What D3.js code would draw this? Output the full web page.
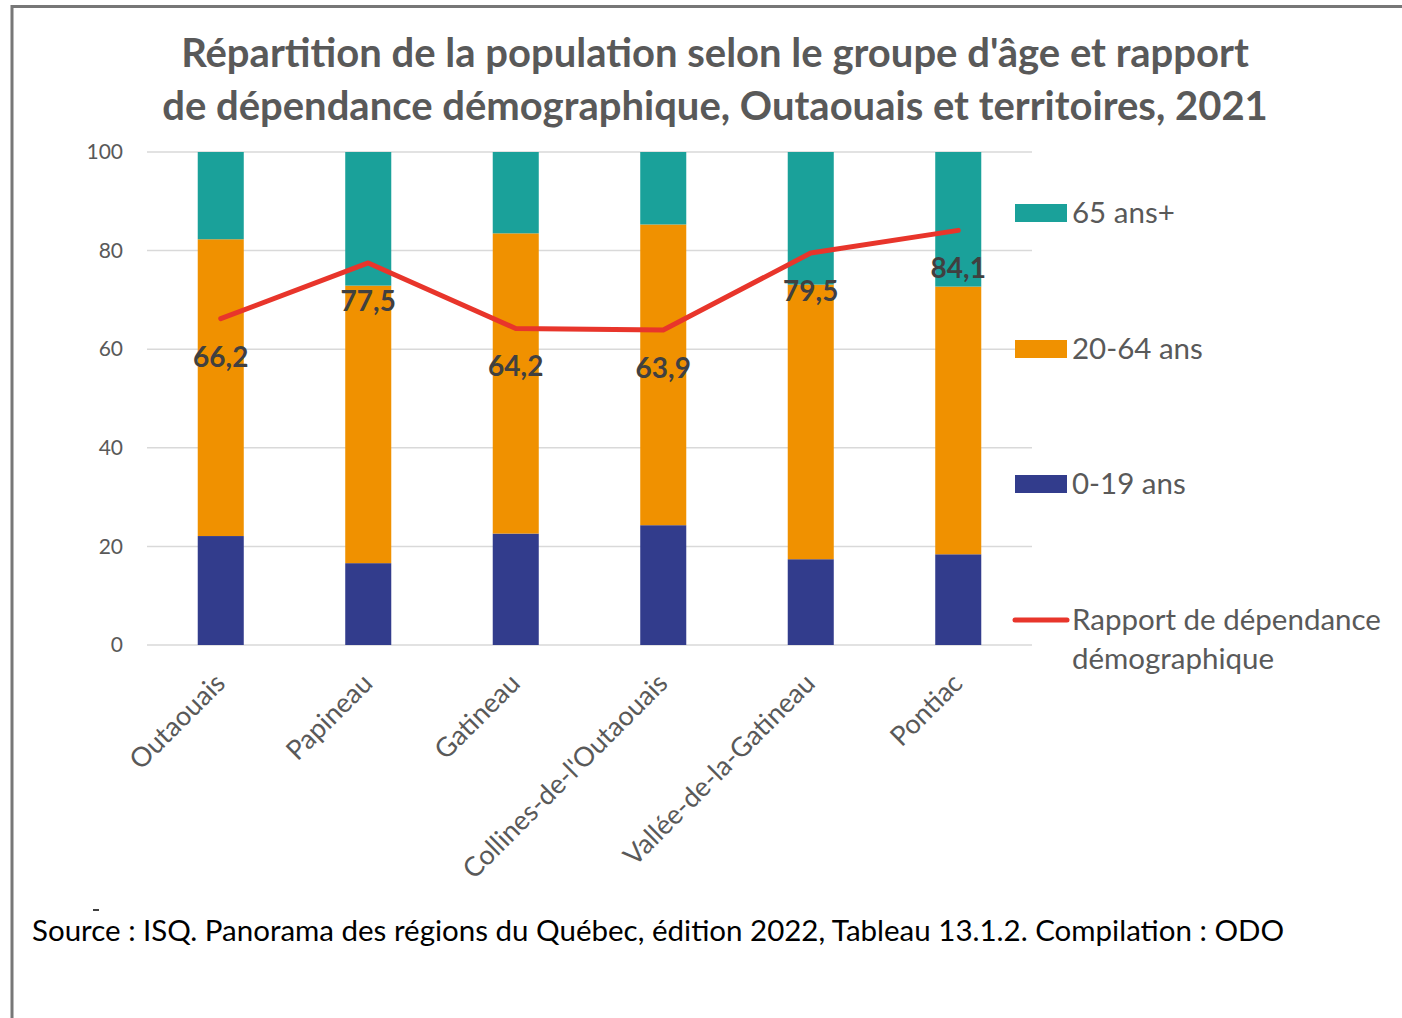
<!DOCTYPE html>
<html>
<head>
<meta charset="utf-8">
<script src="https://cdn.jsdelivr.net/npm/d3@7"></script>
<style>
  body { margin: 0; background: #fff; }
  svg { display: block; font-family: Lato, "Open Sans", sans-serif; }
</style>
</head>
<body>
<div id="chart"></div>
<script>
var regions = ['Outaouais', 'Papineau', 'Gatineau', "Collines-de-l'Outaouais", 'Vallée-de-la-Gatineau', 'Pontiac']
var young = [22.1, 16.6, 22.6, 24.3, 17.4, 18.4]
var adults = [60.2, 56.3, 60.9, 61.0, 55.7, 54.3]
var seniors = [17.7, 27.1, 16.5, 14.7, 26.9, 27.3]
var ratio = [66.2, 77.5, 64.2, 63.9, 79.5, 84.1]
var yTicks = [0, 20, 40, 60, 80, 100]

var seriesNames = ['0-19 ans', '20-64 ans', '65 ans+']
var colors = ['#323C8C', '#F09100', '#1AA19A']
var lineName = ['Rapport de dépendance', 'démographique']

var W = 1402, H = 1018
var plotLeft = 147, plotRight = 1032, plotTop = 152, plotBottom = 645

var svg = d3.select('#chart').append('svg')
  .attr('width', W)
  .attr('height', H)

// frame
svg.append('rect')
  .attr('x', 12).attr('y', 6.5)
  .attr('width', W + 20).attr('height', H + 20)
  .attr('fill', 'none')
  .attr('stroke', '#777')
  .attr('stroke-width', 3)

svg.append('text')
  .attr('x', 715).attr('y', 67)
  .attr('text-anchor', 'middle')
  .attr('font-size', 40).attr('font-weight', 'bold')
  .attr('fill', '#595959')
  .text("Répartition de la population selon le groupe d'âge et rapport")
svg.append('text')
  .attr('x', 715).attr('y', 120)
  .attr('text-anchor', 'middle')
  .attr('font-size', 40).attr('font-weight', 'bold')
  .attr('fill', '#595959')
  .text('de dépendance démographique, Outaouais et territoires, 2021')

var x = d3.scaleBand().domain(regions).range([plotLeft, plotRight])
  .paddingInner(0.688).paddingOuter(0.344)
var y = d3.scaleLinear().domain([0, 100]).range([plotBottom, plotTop])

// gridlines
svg.append('g').selectAll('line').data(yTicks).enter().append('line')
  .attr('x1', plotLeft).attr('x2', plotRight)
  .attr('y1', d => y(d)).attr('y2', d => y(d))
  .attr('stroke', '#d9d9d9').attr('stroke-width', 1.5)

var yAxis = svg.append('g')
  .attr('transform', `translate(${plotLeft},0)`)
  .call(d3.axisLeft(y).tickValues(yTicks).tickSize(0).tickPadding(24))
yAxis.select('.domain').remove()
yAxis.selectAll('text').attr('font-size', 21).attr('fill', '#595959')
  .attr('font-family', 'Lato, sans-serif')

// stacked bars
var rows = regions.map((r, i) => ({ region: r, a: young[i], b: adults[i], c: seniors[i] }))
var stack = d3.stack().keys(['a', 'b', 'c'])(rows)

svg.append('g').selectAll('g').data(stack).enter().append('g')
  .attr('fill', (d, i) => colors[i])
  .selectAll('rect').data(d => d).enter().append('rect')
  .attr('x', d => x(d.data.region))
  .attr('width', x.bandwidth())
  .attr('y', d => y(Math.min(d[1], 100)))
  .attr('height', d => y(d[0]) - y(Math.min(d[1], 100)))

// x labels
var xAxis = svg.append('g')
  .attr('transform', `translate(0,${plotBottom})`)
  .call(d3.axisBottom(x).tickSize(0).tickPadding(0))
xAxis.select('.domain').remove()
xAxis.selectAll('text')
  .attr('font-size', 27).attr('fill', '#595959')
  .attr('font-family', 'Lato, sans-serif')
  .attr('text-anchor', 'end')
  .attr('dy', 0)
  .attr('transform', 'translate(6,40) rotate(-45)')

// dependency ratio line
var line = d3.line()
  .x((d, i) => x(regions[i]) + x.bandwidth() / 2)
  .y(d => y(d))

svg.append('path')
  .datum(ratio)
  .attr('d', line)
  .attr('fill', 'none')
  .attr('stroke', '#E8352B')
  .attr('stroke-width', 5)
  .attr('stroke-linecap', 'round')
  .attr('stroke-linejoin', 'round')

svg.append('g').selectAll('text').data(ratio).enter().append('text')
  .attr('x', (d, i) => x(regions[i]) + x.bandwidth() / 2)
  .attr('y', d => y(d) + 48)
  .attr('text-anchor', 'middle')
  .attr('font-size', 28).attr('font-weight', 'bold')
  .attr('fill', '#404040')
  .text(d => d.toFixed(1).replace('.', ','))

// legend
var legendY = [484, 349, 213]
var legend = svg.append('g')
seriesNames.forEach((name, i) => {
  legend.append('rect')
    .attr('x', 1015).attr('y', legendY[i] - 9)
    .attr('width', 52).attr('height', 18)
    .attr('fill', colors[i])
  legend.append('text')
    .attr('x', 1072).attr('y', legendY[i] + 10)
    .attr('font-size', 29.5).attr('fill', '#595959')
    .text(name)
})
legend.append('line')
  .attr('x1', 1015).attr('x2', 1067)
  .attr('y1', 620).attr('y2', 620)
  .attr('stroke', '#E8352B').attr('stroke-width', 5)
  .attr('stroke-linecap', 'round')
lineName.forEach((t, i) => {
  legend.append('text')
    .attr('x', 1072).attr('y', 630 + i * 39)
    .attr('font-size', 29.5).attr('fill', '#595959')
    .text(t)
})

// small stray mark above the source line
svg.append('line')
  .attr('x1', 93).attr('x2', 99)
  .attr('y1', 910).attr('y2', 910)
  .attr('stroke', '#000').attr('stroke-width', 1.5)

svg.append('text')
  .attr('x', 32).attr('y', 941)
  .attr('font-size', 29.5).attr('fill', '#000')
  .text('Source : ISQ. Panorama des régions du Québec, édition 2022, Tableau 13.1.2. Compilation : ODO')
</script>
</body>
</html>
